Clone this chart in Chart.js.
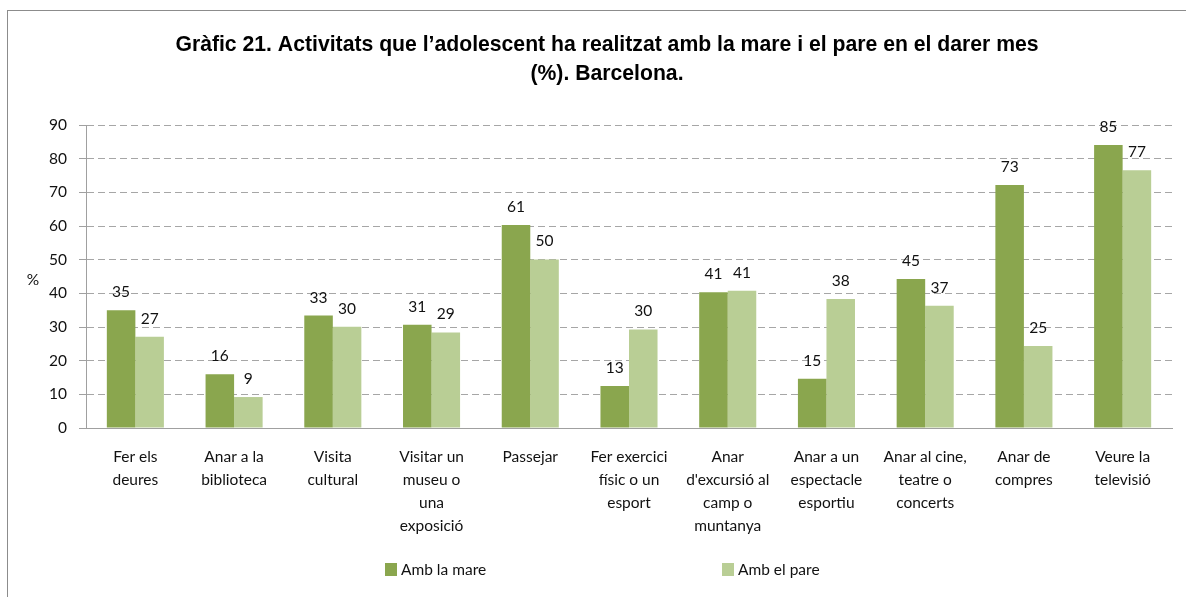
<!DOCTYPE html>
<html>
<head>
<meta charset="utf-8">
<script src="https://cdn.jsdelivr.net/npm/chart.js@4.4.1/dist/chart.umd.min.js"></script>
<style>
  html, body { margin: 0; padding: 0; background: #fff; overflow: hidden; }
  #wrap { position: relative; width: 1186px; height: 597px; }
  #frame { position: absolute; left: 7px; top: 10px; width: 1300px; height: 700px;
           border-left: 1.5px solid #8c8c8c; border-top: 1.5px solid #8c8c8c; pointer-events: none; }
  canvas { position: absolute; left: 0; top: 0; }
</style>
</head>
<body>
<div id="wrap">
  <canvas id="c" width="1186" height="597"></canvas>
  <div id="frame"></div>
</div>
<script>
const titleLines = ["Gràfic 21. Activitats que l’adolescent ha realitzat amb la mare i el pare en el darer mes", "(%). Barcelona."];
const categories = [
  ["Fer els", "deures"],
  ["Anar a la", "biblioteca"],
  ["Visita", "cultural"],
  ["Visitar un", "museu o", "una", "exposició"],
  ["Passejar"],
  ["Fer exercici", "físic o un", "esport"],
  ["Anar", "d'excursió al", "camp o", "muntanya"],
  ["Anar a un", "espectacle", "esportiu"],
  ["Anar al cine,", "teatre o", "concerts"],
  ["Anar de", "compres"],
  ["Veure la", "televisió"]
];
const seriesNames = ["Amb la mare", "Amb el pare"];
const mareValues = [35.0, 16.0, 33.4, 30.7, 60.3, 12.5, 40.3, 14.6, 44.3, 72.2, 84.1];
const pareValues = [27.1, 9.2, 30.1, 28.4, 50.1, 29.3, 40.8, 38.3, 36.3, 24.4, 76.6];
const mareLabels = ["35", "16", "33", "31", "61", "13", "41", "15", "45", "73", "85"];
const pareLabels = ["27", "9", "30", "29", "50", "30", "41", "38", "37", "25", "77"];
const yTicks = [0, 10, 20, 30, 40, 50, 60, 70, 80, 90];
const yAxisTitle = "%";
const colors = ["#8aa64e", "#b9ce95"];

const FONT = "Lato, 'Open Sans', sans-serif";

const valueLabelPlugin = {
  id: 'valueLabels',
  afterDatasetsDraw(chart) {
    const ctx = chart.ctx;
    ctx.save();
    ctx.font = "15.5px " + FONT;
    ctx.fillStyle = "#111";
    ctx.textAlign = "center";
    ctx.textBaseline = "middle";
    const lbls = [mareLabels, pareLabels];
    chart.data.datasets.forEach((ds, di) => {
      const meta = chart.getDatasetMeta(di);
      meta.data.forEach((el, i) => {
        ctx.fillText(lbls[di][i], el.x, el.y - 18);
      });
    });
    ctx.restore();
  }
};

const extrasPlugin = {
  id: 'extras',
  afterDraw(chart) {
    const ctx = chart.ctx;
    ctx.save();
    ctx.font = "15.5px " + FONT;
    ctx.fillStyle = "#111";
    ctx.textAlign = "center";
    ctx.textBaseline = "middle";
    ctx.fillText(yAxisTitle, 33, 280);
    const xs = [385, 722];
    chart.data.datasets.forEach((ds, i) => {
      ctx.fillStyle = ds.backgroundColor;
      ctx.fillRect(xs[i], 563, 12, 13);
      ctx.fillStyle = "#111";
      ctx.textAlign = "left";
      ctx.font = "15.5px " + FONT;
      ctx.fillText(ds.label, xs[i] + 16, 570);
    });
    ctx.restore();
  }
};

new Chart(document.getElementById('c'), {
  type: 'bar',
  data: {
    labels: categories,
    datasets: [
      { label: seriesNames[0], data: mareValues, backgroundColor: colors[0] },
      { label: seriesNames[1], data: pareValues, backgroundColor: colors[1] }
    ]
  },
  options: {
    responsive: false,
    animation: false,
    devicePixelRatio: 1,
    layout: { padding: { left: 42, right: 14, top: 0, bottom: 42 } },
    datasets: { bar: { categoryPercentage: 0.578, barPercentage: 1.0 } },
    plugins: {
      legend: { display: false },
      tooltip: { enabled: false },
      title: {
        display: true,
        text: titleLines,
        color: "#000",
        font: { family: "'Liberation Sans', Arial, sans-serif", size: 21.2, weight: 'bold', lineHeight: 1.37 },
        padding: { top: 31, bottom: 36 }
      }
    },
    scales: {
      x: {
        grid: { display: false, drawTicks: false },
        border: { display: true, color: "#a0a0a0", width: 1 },
        ticks: {
          color: "#111",
          font: { family: FONT, size: 15.5, lineHeight: 1.5 },
          padding: 17,
          maxRotation: 0,
          autoSkip: false
        }
      },
      y: {
        min: 0, max: 90,
        afterBuildTicks(scale) { scale.ticks = yTicks.map(v => ({ value: v })); },
        afterFit(scale) { scale.width = 44; },
        grid: {
          color: "#a6a6a6",
          lineWidth: 1,
          drawTicks: true,
          tickLength: 7,
          tickColor: "#a0a0a0",
          tickBorderDash: [1, 0]
        },
        border: { display: true, color: "#a0a0a0", width: 1, dash: [7, 4] },
        ticks: {
          color: "#111",
          font: { family: FONT, size: 15.5 },
          padding: 12
        }
      }
    }
  },
  plugins: [valueLabelPlugin, extrasPlugin]
});
</script>
</body>
</html>
